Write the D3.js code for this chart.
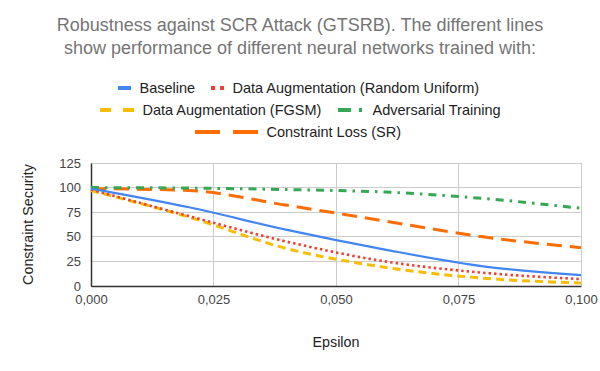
<!DOCTYPE html>
<html><head><meta charset="utf-8">
<script src="https://cdn.jsdelivr.net/npm/d3@7"></script>
<style>body{margin:0;background:#fff}svg{display:block;font-family:"Liberation Sans",Arial,sans-serif}</style>
</head><body><svg id="c" width="600" height="371"></svg>
<script>
const epsilons = [0, 0.02, 0.04, 0.06, 0.08, 0.1];
const baseline = [99, 80, 57, 37, 20, 11];
const randomUniform = [98, 71, 45, 25, 13.5, 7];
const fgsm = [97, 70, 38, 19, 8, 3];
const adversarial = [100, 99.5, 98, 95.5, 89, 79];
const constraintLoss = [99, 97, 82, 66, 50, 39];
const xTicks = [0, 0.025, 0.05, 0.075, 0.1];
const yTicks = [0, 25, 50, 75, 100, 125];
const titleLines = ["Robustness against SCR Attack (GTSRB). The different lines", "show performance of different neural networks trained with:"];

const series = [
  {name:"Baseline", values:baseline, color:"#4285F4", width:2.2, dash:null, icon:[118,131], row:0},
  {name:"Data Augmentation (Random Uniform)", values:randomUniform, color:"#EA4335", width:2.6, dash:"2.5,3", icon:[211,224], row:0},
  {name:"Data Augmentation (FGSM)", values:fgsm, color:"#FBBC04", width:3, dash:"8,5", icon:[100,134], row:1},
  {name:"Adversarial Training", values:adversarial, color:"#34A853", width:3, dash:"8,6,2.5,6", icon:[338,364], row:1},
  {name:"Constraint Loss (SR)", values:constraintLoss, color:"#FF6D01", width:3, dash:"15,8", icon:[195,258], row:2}
];
const iconDash = ["", "4,5", "11,12", "13,8,3,20", "25,13"];

const svg = d3.select("#c");
const x = d3.scaleLinear().domain([0, 0.1]).range([91, 581]);
const y = d3.scaleLinear().domain([0, 125]).range([286, 163]);

// title
svg.append("g").selectAll("text").data(titleLines).join("text")
  .attr("x", 300).attr("y", (d,i)=>31 + i*23).attr("text-anchor","middle")
  .attr("font-size", 18).attr("fill", "#757575").text(d=>d);

// gridlines
svg.append("g").selectAll("line.h").data(yTicks).join("line")
  .attr("x1", x(0)).attr("x2", x(0.1)).attr("y1", d=>y(d)).attr("y2", d=>y(d))
  .attr("stroke", "#cccccc").attr("stroke-width", 1).attr("shape-rendering","crispEdges");
svg.append("g").selectAll("line.v").data(xTicks).join("line")
  .attr("y1", y(0)).attr("y2", y(125)).attr("x1", d=>x(d)).attr("x2", d=>x(d))
  .attr("stroke", "#cccccc").attr("stroke-width", 1).attr("shape-rendering","crispEdges");

// axes
const fmt = d => d3.format(".3f")(d).replace(".", ",");
const xAxis = svg.append("g").attr("transform", `translate(0,${y(0)})`)
  .call(d3.axisBottom(x).tickValues(xTicks).tickFormat(fmt).tickSize(0).tickPadding(9));
xAxis.select(".domain").attr("stroke", "#333").attr("stroke-width", 1.5);
xAxis.selectAll("text").attr("font-size", 13).attr("fill", "#444").attr("font-family", "Liberation Sans, Arial, sans-serif");
const yAxis = svg.append("g").attr("transform", `translate(${x(0)},0)`)
  .call(d3.axisLeft(y).tickValues(yTicks).tickSize(0).tickPadding(10));
yAxis.select(".domain").attr("stroke", "#333").attr("stroke-width", 1.5);
yAxis.selectAll("text").attr("font-size", 13).attr("fill", "#444").attr("font-family", "Liberation Sans, Arial, sans-serif");

// axis titles
svg.append("text").attr("x", (x(0)+x(0.1))/2).attr("y", 347).attr("text-anchor","middle")
  .attr("font-size", 14.3).attr("fill", "#222").text("Epsilon");
svg.append("text").attr("transform", `translate(33,${(y(0)+y(125))/2}) rotate(-90)`)
  .attr("text-anchor","middle").attr("font-size", 14.3).attr("fill", "#222").text("Constraint Security");

// lines
const line = d3.line().x((d,i)=>x(epsilons[i])).y(d=>y(d)).curve(d3.curveMonotoneX);
const order = [4,3,2,1,0];
svg.append("g").selectAll("path").data(order.map(i=>series[i])).join("path")
  .attr("d", d=>line(d.values)).attr("fill","none")
  .attr("stroke", d=>d.color).attr("stroke-width", d=>d.width)
  .attr("stroke-dasharray", d=>d.dash);

// legend
const rowY = [88, 110, 132];
const lg = svg.append("g");
series.forEach((s, i) => {
  lg.append("line").attr("x1", s.icon[0]).attr("x2", s.icon[1])
    .attr("y1", rowY[s.row]).attr("y2", rowY[s.row])
    .attr("stroke", s.color).attr("stroke-width", 4)
    .attr("stroke-dasharray", iconDash[i] || null);
  lg.append("text").attr("x", s.icon[1] + 8.5).attr("y", rowY[s.row]).attr("dy", "0.35em")
    .attr("font-size", 14.5).attr("fill", "#222").text(s.name);
});
</script></body></html>
